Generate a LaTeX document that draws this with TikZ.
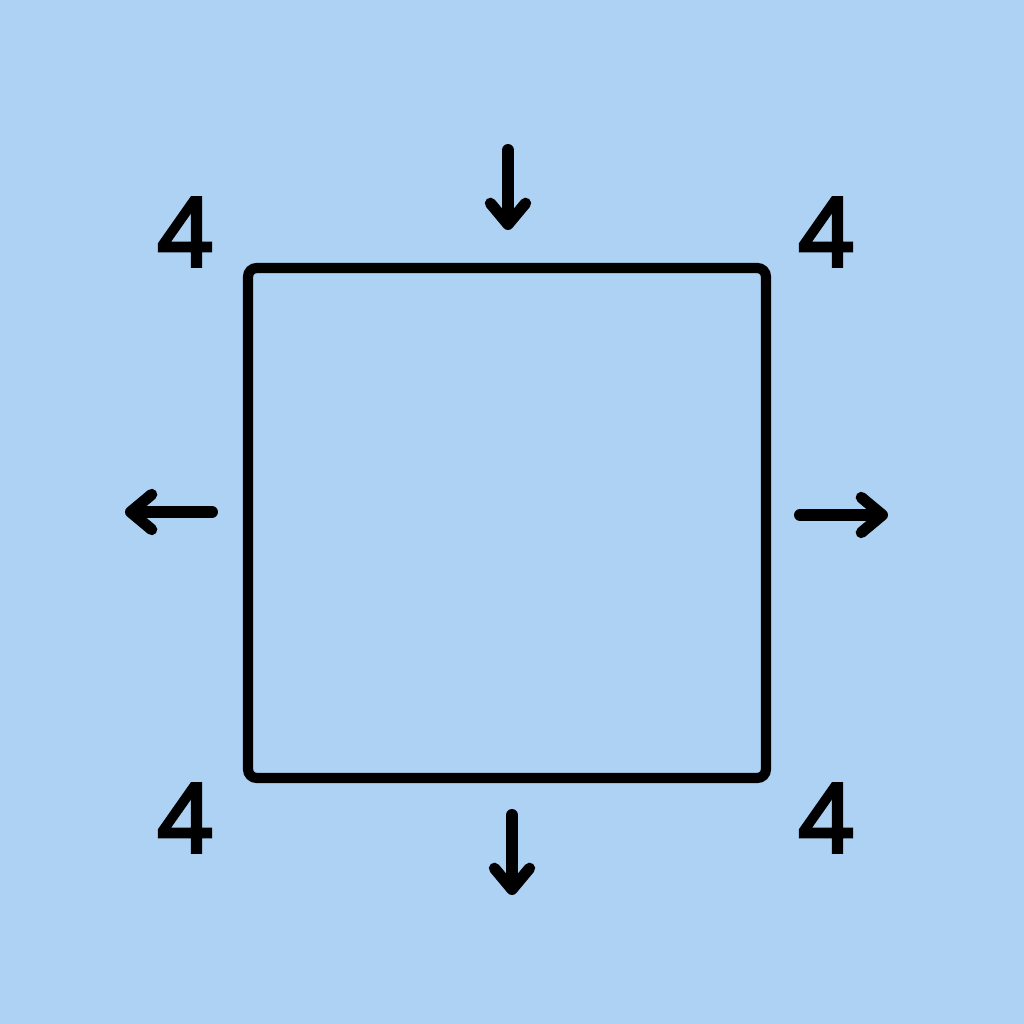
\documentclass[tikz,border=0pt]{standalone}
\usepackage{fontspec}
\setmainfont{Open Sans}
\newfontfamily\countfont[FakeBold=4]{Open Sans}
\usepackage{tikz}
\usetikzlibrary{positioning}
\usetikzlibrary{arrows.meta}
\usepackage{xcolor}
\definecolor{skyback}{RGB}{173,210,243}
\tikzset{
  pushline/.style={black, line width=3.4pt, line cap=round, -{Straight Barb[length=6pt, width=10pt, line width=3.2pt, round]}},
  count/.style={font=\countfont\fontsize{27}{27}\selectfont, inner sep=0pt}
}

\begin{document}
\begin{tikzpicture}
	    		\fill[skyback] (0, 0) rectangle (10.24, 10.24);
	    		\useasboundingbox (0, 0) rectangle (10.24, 10.24);
	    		\node[draw=black, line width=2.9pt, rounded corners=2.5pt, minimum width=5.18cm, minimum height=5.1cm] (plate) at (5.07, 5.01) {};
	    		\coordinate (topfrom) at (5.08, 8.74);
	    		\coordinate (topto) at (5.08, 7.94);
	    		\coordinate (botfrom) at (5.12, 2.09);
	    		\coordinate (botto) at (5.12, 1.29);
	    		\coordinate (leftfrom) at (2.12, 5.12);
	    		\coordinate (leftto) at (1.25, 5.12);
	    		\coordinate (rightfrom) at (8.00, 5.09);
	    		\coordinate (rightto) at (8.88, 5.09);
	    		\draw[pushline] (topfrom)--(topto);
	    		\draw[pushline] (botfrom)--(botto);
	    		\draw[pushline] (leftfrom)--(leftto);
	    		\draw[pushline] (rightfrom)--(rightto);
	    		\node[count] (tl) at (1.85, 7.92) {4};
	    		\node[count] (tr) at (8.26, 7.92) {4};
	    		\node[count] (bl) at (1.85, 2.06) {4};
	    		\node[count] (br) at (8.26, 2.06) {4};
	    	\end{tikzpicture}
\end{document}
